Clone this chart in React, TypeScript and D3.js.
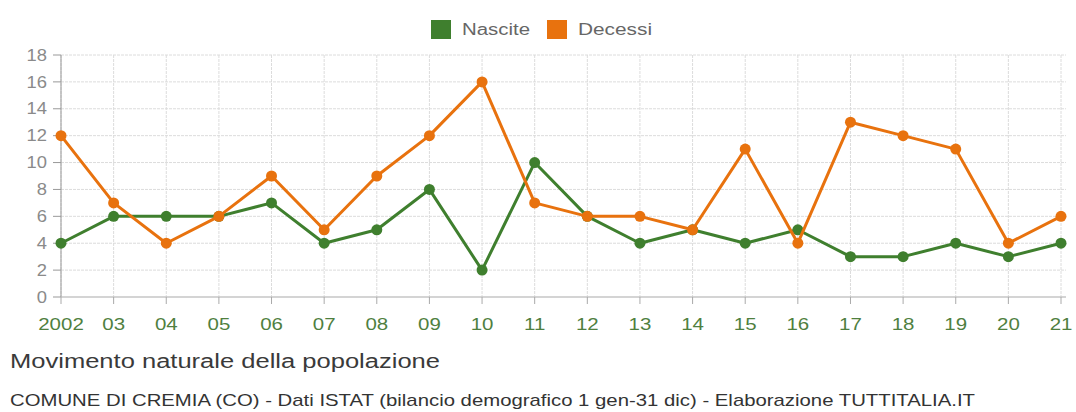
import React from "react";
import * as d3 from "d3";

const years = ["2002","03","04","05","06","07","08","09","10","11","12","13","14","15","16","17","18","19","20","21"];
const nascite = [4,6,6,6,7,4,5,8,2,10,6,4,5,4,5,3,3,4,3,4];
const decessi = [12,7,4,6,9,5,9,12,16,7,6,6,5,11,4,13,12,11,4,6];
const yTicks = [0,2,4,6,8,10,12,14,16,18];
const seriesNames = ["Nascite","Decessi"];
const colors = ["#3f7f2e","#e8720e"];

export default function App() {
  const W = 1076, H = 412;
  const x = d3.scalePoint<string>().domain(years).range([61, 1061]);
  const y = d3.scaleLinear().domain([0, 18]).range([297, 55]);
  const line = d3.line<number>().x((_, i) => x(years[i])!).y(d => y(d));
  const font = "'Liberation Sans', Arial, Helvetica, sans-serif";
  const series = [nascite, decessi];
  return (
    <svg width={W} height={H} style={{ position: "absolute", left: 0, top: 0, background: "#fff" }} fontFamily={font}>
      {yTicks.map(t => (
        <line key={"gy"+t} x1={61} x2={1066} y1={y(t)} y2={y(t)} stroke="#dcdcdc" strokeWidth={1} strokeDasharray={t === 0 ? undefined : "3,1"} />
      ))}
      {years.map(yr => (
        <line key={"gx"+yr} x1={x(yr)!} x2={x(yr)!} y1={y(18)} y2={y(0)} stroke="#dcdcdc" strokeWidth={1} strokeDasharray="3,1" />
      ))}
      <line x1={61} x2={61} y1={y(18)} y2={y(0)} stroke="#999" strokeWidth={1} />
      <line x1={61} x2={1066} y1={y(0)} y2={y(0)} stroke="#bbb" strokeWidth={1} />
      {yTicks.map(t => (
        <g key={"yt"+t}>
          <line x1={53} x2={61} y1={y(t)} y2={y(t)} stroke="#999" />
          <text transform={`translate(47,${y(t)}) scale(1.15,1)`} dy="0.35em" textAnchor="end" fontSize={16} fill="#8a8a8a">{t}</text>
        </g>
      ))}
      {years.map(yr => (
        <g key={"xt"+yr}>
          <line x1={x(yr)!} x2={x(yr)!} y1={y(0)} y2={y(0)+7} stroke="#aaa" />
          <text transform={`translate(${x(yr)!},330) scale(1.28,1)`} textAnchor="middle" fontSize={16} fill="#4f7f3f">{yr}</text>
        </g>
      ))}
      {series.map((s, si) => (
        <g key={"s"+si}>
          <path d={line(s)!} fill="none" stroke={colors[si]} strokeWidth={3} strokeLinejoin="round" />
          {s.map((v, i) => (
            <circle key={i} cx={x(years[i])!} cy={y(v)} r={5.5} fill={colors[si]} />
          ))}
        </g>
      ))}
      {seriesNames.map((n, i) => (
        <g key={"lg"+n} transform={`translate(${i === 0 ? 431 : 547},20)`}>
          <rect x={0} y={0} width={20} height={19} fill={colors[i]} />
          <text x={31} y={15} fontSize={16} fill="#666" textLength={i === 0 ? 68 : 74} lengthAdjust="spacingAndGlyphs">{n}</text>
        </g>
      ))}
      <text x={10} y={368} fontSize={20} fill="#3a3a3a" textLength={430} lengthAdjust="spacingAndGlyphs">Movimento naturale della popolazione</text>
      <text x={10} y={406} fontSize={17} fill="#333" textLength={965} lengthAdjust="spacingAndGlyphs">COMUNE DI CREMIA (CO) - Dati ISTAT (bilancio demografico 1 gen-31 dic) - Elaborazione TUTTITALIA.IT</text>
    </svg>
  );
}
